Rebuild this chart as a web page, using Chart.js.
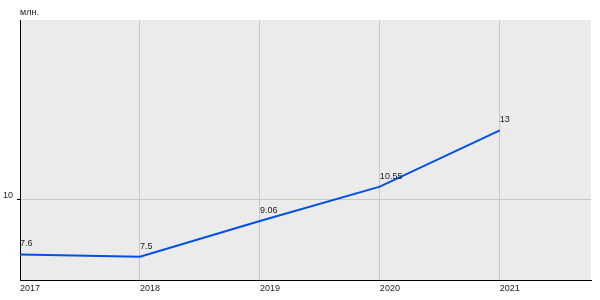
<!DOCTYPE html>
<html>
<head>
<meta charset="utf-8">
<script src="https://cdn.jsdelivr.net/npm/chart.js@4.4.2/dist/chart.umd.min.js"></script>
<style>
  body { margin: 0; background: #fff; }
  canvas { display: block; }
</style>
</head>
<body>
<canvas id="grafico" width="600" height="300"></canvas>
<script>
// datos
const anios = [2017, 2018, 2019, 2020, 2021];
const valores = [7.6, 7.5, 9.06, 10.55, 13];
const ticksX = [2017, 2018, 2019, 2020, 2021];
const ticksY = [10];
const unidad = 'млн.';

Chart.defaults.font.family = '"Liberation Sans", Arial, sans-serif';
Chart.defaults.font.size = 9;
Chart.defaults.color = '#222';

// fondo gris del área del gráfico
const fondo = {
  id: 'fondo',
  beforeDraw(chart) {
    const { ctx, chartArea: a } = chart;
    ctx.save();
    ctx.fillStyle = '#ebebeb';
    ctx.fillRect(a.left, a.top, a.right - a.left, a.bottom - a.top);
    ctx.restore();
  }
};

// etiquetas de valores y unidad
const etiquetas = {
  id: 'etiquetas',
  afterDatasetsDraw(chart) {
    const { ctx, chartArea: a } = chart;
    const meta = chart.getDatasetMeta(0);
    ctx.save();
    ctx.font = '9px "Liberation Sans", Arial, sans-serif';
    ctx.fillStyle = '#222';
    ctx.textAlign = 'left';
    ctx.textBaseline = 'middle';
    meta.data.forEach((p, i) => {
      ctx.fillText(String(valores[i]), p.x, p.y - 10.5);
    });
    ctx.textBaseline = 'alphabetic';
    ctx.fillText(unidad, a.left, 15);
    ctx.restore();
  }
};

new Chart(document.getElementById('grafico'), {
  type: 'line',
  data: {
    datasets: [{
      data: anios.map((a, i) => ({ x: a, y: valores[i] })),
      borderColor: '#0050e6',
      borderWidth: 2,
      pointRadius: 0,
      tension: 0,
      fill: false
    }]
  },
  options: {
    responsive: false,
    animation: false,
    layout: { padding: { top: 20, right: 9, left: 0, bottom: 0 } },
    plugins: {
      legend: { display: false },
      tooltip: { enabled: false }
    },
    scales: {
      x: {
        type: 'linear',
        min: 2017,
        max: 2021.76,
        afterBuildTicks: (s) => { s.ticks = ticksX.map(v => ({ value: v })); },
        afterFit: (s) => { s.height = 20; },
        ticks: { align: 'start', padding: 3, callback: (v) => String(v) },
        grid: { color: '#c8c8c8', drawTicks: false },
        border: { color: '#000', width: 1 }
      },
      y: {
        min: 6.49,
        max: 17.8,
        afterBuildTicks: (s) => { s.ticks = ticksY.map(v => ({ value: v })); },
        afterFit: (s) => { s.width = 20; },
        ticks: { padding: 4, labelOffset: -4 },
        grid: { color: '#c8c8c8', tickColor: '#000', tickLength: 3 },
        border: { color: '#000', width: 1 }
      }
    }
  },
  plugins: [fondo, etiquetas]
});
</script>
</body>
</html>
